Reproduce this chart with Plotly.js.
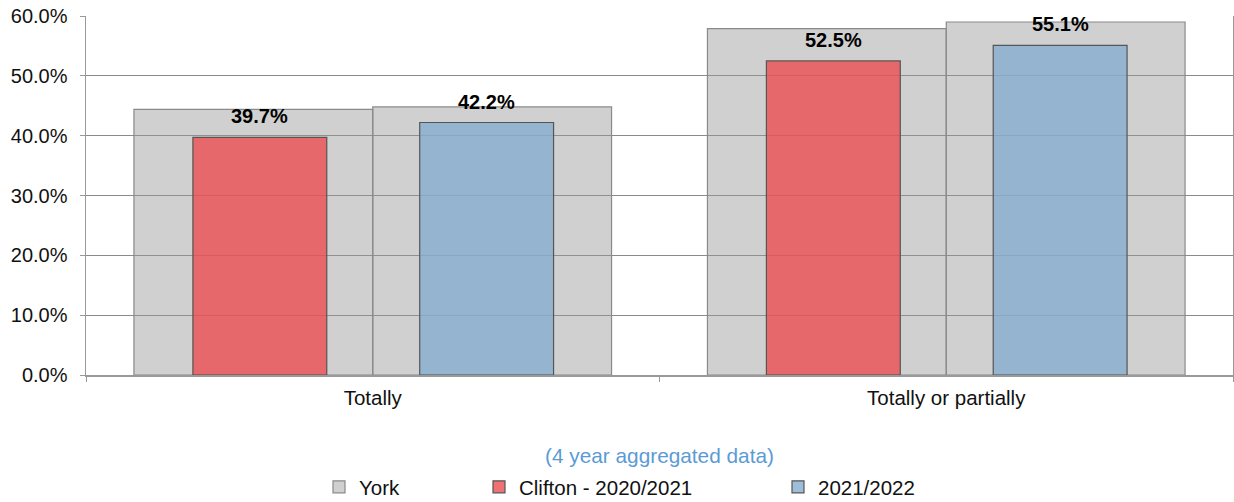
<!DOCTYPE html>
<html>
<head>
<meta charset="utf-8">
<script src="https://cdn.plot.ly/plotly-3.0.1.min.js"></script>
<style>
html,body{margin:0;padding:0;background:#fff;}
#chart{width:1234px;height:502px;}
</style>
</head>
<body>
<div id="chart"></div>
<script>
// ---- data ----
const categories = ['Totally', 'Totally or partially'];
const yorkFirstYear = [44.4, 57.9];   // York 2020/2021
const yorkSecondYear = [44.8, 59.0];  // York 2021/2022
const clifton2021 = [39.7, 52.5];
const clifton2122 = [42.2, 55.1];
const seriesNames = ['York', 'Clifton - 2020/2021', '2021/2022'];
const subtitle = '(4 year aggregated data)';

// ---- style ----
const FONT = 'Liberation Sans, Arial, sans-serif';
const greyFill = 'rgba(150,150,150,0.45)';
const redFill = 'rgba(235,77,81,0.8)';
const blueFill = 'rgba(134,172,208,0.8)';
const wideW = 0.4164, narrowW = 0.2334;
const redOff = -0.3136, blueOff = 0.0819;

const traces = [
  {type:'bar', x:categories, y:yorkFirstYear, name:seriesNames[0], legend:'legend',
   width:wideW, offset:-wideW,
   marker:{color:greyFill, line:{color:'#8a8a8a', width:1.2}}, hoverinfo:'skip'},
  {type:'bar', x:categories, y:yorkSecondYear, name:seriesNames[0], showlegend:false,
   width:wideW, offset:0,
   marker:{color:greyFill, line:{color:'#8a8a8a', width:1.2}}, hoverinfo:'skip'},
  {type:'bar', x:categories, y:clifton2021, name:seriesNames[1], legend:'legend2',
   width:narrowW, offset:redOff,
   marker:{color:redFill, line:{color:'#555', width:1.2}}, hoverinfo:'skip'},
  {type:'bar', x:categories, y:clifton2122, name:seriesNames[2], legend:'legend3',
   width:narrowW, offset:blueOff,
   marker:{color:blueFill, line:{color:'#555', width:1.2}}, hoverinfo:'skip'}
];

const annotations = [];
[[clifton2021, redOff], [clifton2122, blueOff]].forEach(([vals, off]) => {
  vals.forEach((v, i) => {
    annotations.push({
      x: i + off + narrowW / 2, y: v, xref:'x', yref:'y',
      text: v.toFixed(1) + '%', showarrow:false,
      yanchor:'bottom', yshift:8,
      font:{family:FONT, size:20, color:'#000', weight:'bold'}
    });
  });
});
annotations.push({
  x:0.5, y:-0.223, xref:'paper', yref:'paper', text:subtitle, showarrow:false,
  xanchor:'center', yanchor:'middle', font:{family:FONT, size:20.8, color:'#5B9BD5'}
});

const legendBase = {orientation:'h', y:-0.312, yanchor:'middle', xanchor:'left',
  bgcolor:'rgba(0,0,0,0)', font:{family:FONT, size:20.5, color:'#111'}};

const layout = {
  width:1234, height:502,
  margin:{l:86, r:1, t:16, b:127, autoexpand:false},
  paper_bgcolor:'#fff', plot_bgcolor:'#fff',
  barmode:'overlay',
  font:{family:FONT, size:20, color:'#222'},
  xaxis:{type:'category', range:[-0.5, 1.5], tickson:'boundaries', ticks:'outside',
    ticklen:5, tickcolor:'#999', showline:true, linecolor:'#999', linewidth:1.5,
    showgrid:false, ticklabelstandoff:4, automargin:false,
    tickfont:{family:FONT, size:20.5, color:'#111'}},
  yaxis:{range:[0, 60], dtick:10, tickformat:'.1f', ticksuffix:'%',
    ticks:'outside', ticklen:5, tickcolor:'#999', showline:true, linecolor:'#999',
    linewidth:1.5, mirror:true, showgrid:true, gridcolor:'#8a8a8a', gridwidth:1,
    zeroline:false, ticklabelstandoff:8, automargin:false,
    tickfont:{family:FONT, size:20, color:'#111'}},
  showlegend:true,
  legend:Object.assign({}, legendBase, {x:(319-86)/1147}),
  legend2:Object.assign({}, legendBase, {x:(479-86)/1147}),
  legend3:Object.assign({}, legendBase, {x:(778-86)/1147}),
  annotations:annotations
};

Plotly.newPlot('chart', traces, layout, {displayModeBar:false, staticPlot:true});
</script>
</body>
</html>
